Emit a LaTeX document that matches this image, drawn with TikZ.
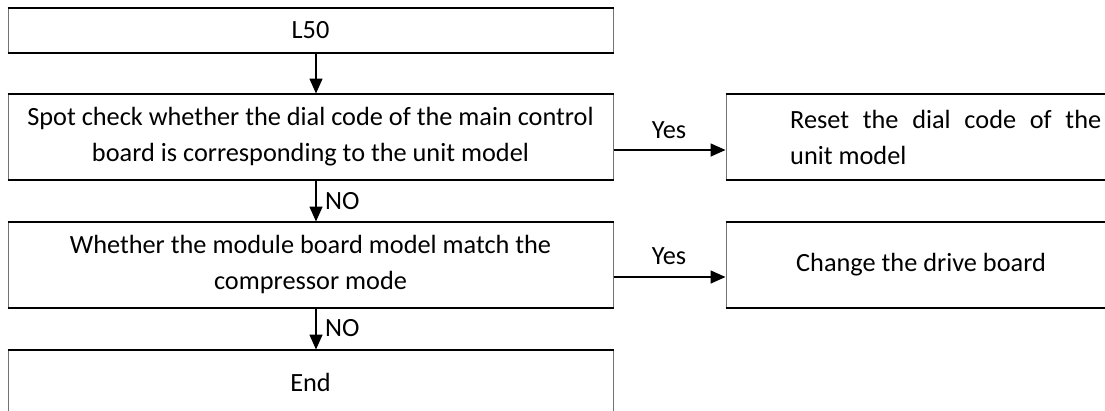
\documentclass[tikz,border=0pt]{standalone}
\usepackage{fontspec}
\setmainfont{Carlito}
\usetikzlibrary{arrows.meta}
\begin{document}
\begin{tikzpicture}[x=1pt,y=-1pt,
  box/.style={draw=black!55, line width=1pt, inner sep=0pt, align=center,
    font=\fontsize{26.3}{36}\selectfont},
  edge/.style={draw=black, line width=2pt},
  arr/.style={-{Triangle[length=15pt,width=13pt]}, line width=1.6pt},
  lbl/.style={font=\fontsize{26.3}{30}\selectfont, inner sep=0pt}]
\clip (0,0) rectangle (1105,410);
\fill[white] (0,0) rectangle (1105,410);
% left column boxes
\node[box, minimum width=605pt, minimum height=44pt] (b1) at (310.5,30) {L50};
\node[box, minimum width=605pt, minimum height=85pt] (b2) at (310.5,136.5)
  {Spot check whether the dial code of the main control\\board is corresponding to the unit model};
\node[box, minimum width=605pt, minimum height=85pt] (b3) at (310.5,264.5)
  {Whether the module board model match the\\compressor mode};
\node[box, minimum width=605pt, minimum height=64pt] (b4) at (310.5,382) {End};
% right column boxes
\node[box, minimum width=400pt, minimum height=85pt] (r1) at (926,136.5) {};
\node[box, minimum width=400pt, minimum height=85pt] (r2) at (926,264.5) {};
\node[font=\fontsize{26.3}{36}\selectfont, text width=311pt, align=justify, inner sep=0pt,
  anchor=west] (t1) at (790,137) {Reset the dial code of the\linebreak unit model};
\node[font=\fontsize{26.3}{30}\selectfont, inner sep=0pt, anchor=west] (t2) at (796,265) {Change the drive board};
% thick top/bottom edges
\foreach \n in {b1,b2,b3,b4,r1,r2}{
  \draw[edge] (\n.north west) -- (\n.north east);
  \draw[edge] (\n.south west) -- (\n.south east);
}
% vertical connectors
\coordinate (a1s) at (316,52);
\draw[arr] (b1.south -| a1s) -- (b2.north -| a1s);
\draw[arr] (b2.south -| a1s) -- (b3.north -| a1s);
\draw[arr] (b3.south -| a1s) -- (b4.north -| a1s);
\node[lbl, anchor=west] (no1) at (325,201) {NO};
\node[lbl, anchor=west] (no2) at (325,328) {NO};
% horizontal connectors
\coordinate (y1) at (0,150);
\coordinate (y2) at (0,277);
\draw[arr] (b2.east |- y1) -- (r1.west |- y1);
\draw[arr] (b3.east |- y2) -- (r2.west |- y2);
\node[lbl] (yes1) at (669,130) {Yes};
\node[lbl] (yes2) at (669,256) {Yes};
\end{tikzpicture}
\end{document}
